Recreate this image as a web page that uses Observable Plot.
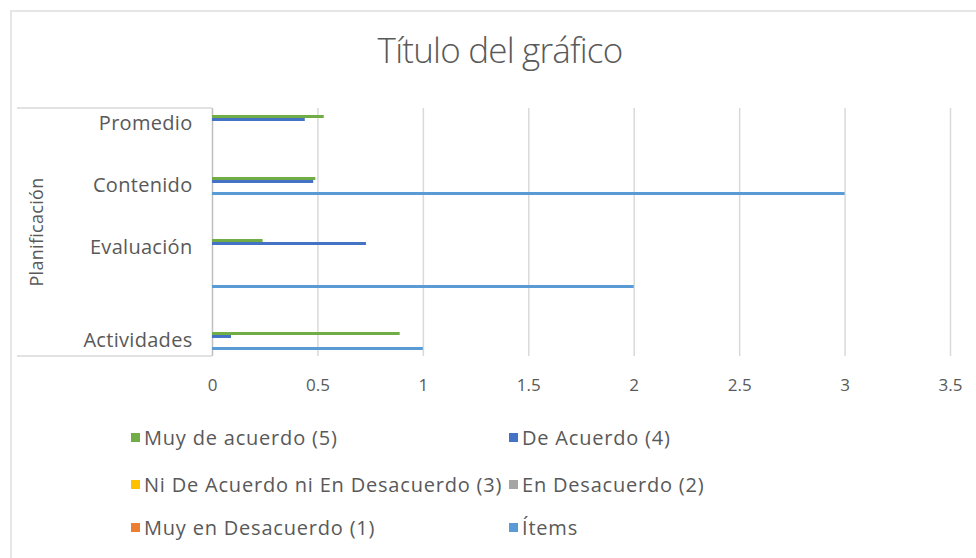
<!DOCTYPE html>
<html>
<head>
<meta charset="utf-8">
<script src="https://cdn.jsdelivr.net/npm/d3@7"></script>
<script src="https://cdn.jsdelivr.net/npm/@observablehq/plot@0.6"></script>
<style>
  html, body { margin: 0; padding: 0; background: #ffffff; }
  #chart { position: relative; width: 976px; height: 558px; overflow: hidden; background: #fff; font-family: "Open Sans", sans-serif; color: #595959; }
  #frame { position: absolute; left: 10px; top: 10px; width: 1100px; height: 700px; border-top: 2px solid #e6e6e6; border-left: 2px solid #e6e6e6; box-sizing: border-box; }
  #title { position: absolute; left: 0; top: 26px; width: 1000px; text-align: center; font-size: 35px; font-weight: 300; color: #595959; letter-spacing: -0.8px; }
  #plot { position: absolute; left: 0; top: 0; }
  #legend { position: absolute; left: 131px; top: 424px; width: 800px; }
  .item { position: absolute; display: flex; align-items: center; font-size: 20px; letter-spacing: 0.8px; color: #595959; white-space: nowrap; }
  .sw { width: 9px; height: 9px; margin-right: 4px; }
</style>
</head>
<body>
<div id="chart">
  <div id="frame"></div>
  <div id="title"></div>
  <div id="plot"></div>
  <div id="legend"></div>
</div>
<script>
// ---- data ----
const titleText = "Título del gráfico";
const groupLabel = "Planificación";
const rowIds = [0, 1, 2, 3, 4, 5, 6, 7];
const rowLabels = ["Promedio", "", "Contenido", "", "Evaluación", "", "", "Actividades"];
const seriesNames = ["Muy de acuerdo (5)", "De Acuerdo (4)", "Ni De Acuerdo ni En Desacuerdo (3)", "En Desacuerdo (2)", "Muy en Desacuerdo (1)", "Ítems"];
const seriesColors = ["#70AD47", "#4472C4", "#FFC000", "#A5A5A5", "#ED7D31", "#5B9BD5"];
const muyDeAcuerdo    = [0.53, null, 0.49, null, 0.24, null, null, 0.89];
const deAcuerdo       = [0.44, null, 0.48, null, 0.73, null, null, 0.09];
const niDeAcuerdo     = [0, 0, 0, 0, 0, 0, 0, 0];
const enDesacuerdo    = [0, 0, 0, 0, 0, 0, 0, 0];
const muyEnDesacuerdo = [0, 0, 0, 0, 0, 0, 0, 0];
const items           = [null, null, 3, null, null, 2, null, 1];
const xTicks = [0, 0.5, 1, 1.5, 2, 2.5, 3, 3.5];
const xTickLabels = ["0", "0.5", "1", "1.5", "2", "2.5", "3", "3.5"];
const legendOrder = [[0, 1], [2, 3], [4, 5]];

// ---- table ----
const seriesValues = [muyDeAcuerdo, deAcuerdo, niDeAcuerdo, enDesacuerdo, muyEnDesacuerdo, items];
const table = [];
seriesNames.forEach((s, si) => seriesValues[si].forEach((v, r) => {
  if (v != null) table.push({row: rowIds[r], series: s, value: v});
}));

document.getElementById("title").textContent = titleText;

const hasAxisMarks = typeof Plot.axisX === "function";
const xFmt = d => xTickLabels[xTicks.indexOf(d)];

const chart = Plot.plot({
  width: 976,
  height: 420,
  marginTop: 108,
  marginBottom: 64,
  marginLeft: 212,
  marginRight: 26,
  style: {fontFamily: '"Open Sans", sans-serif', fontSize: "17px", color: "#595959", background: "transparent"},
  facet: {data: table, y: "row"},
  fy: {domain: rowIds, padding: 0, axis: "left", tickFormat: i => rowLabels[i], tickSize: 0, tickPadding: 20, label: null},
  x: {domain: [0, 3.5], axis: hasAxisMarks ? null : "bottom", ticks: xTicks, tickFormat: xFmt, tickSize: 0, tickPadding: 22, label: null},
  y: {domain: seriesNames, axis: null, paddingInner: 0.1, paddingOuter: 1.3},
  color: {domain: seriesNames, range: seriesColors},
  marks: [
    Plot.ruleX(xTicks.slice(1), {stroke: "#d9d9d9", strokeWidth: 1.5}),
    Plot.ruleX([0], {stroke: "#bfbfbf", strokeWidth: 1.5}),
    Plot.barX(table, {x: "value", y: "series", fill: "series"}),
    hasAxisMarks ? Plot.axisX({ticks: xTicks, tickFormat: xFmt, tickSize: 0, tickPadding: 22, label: null, facetAnchor: "bottom"}) : null
  ]
});
document.getElementById("plot").appendChild(chart);

// fy tick labels a little larger and spaced, like the reference
d3.select(chart).selectAll('g[aria-label="fy-axis tick label"] text, g[aria-label="fy-axis"] text')
  .style("font-size", "20px").style("letter-spacing", "0.3px");

// multi-level category bracket + group label, from the scales
const svg = d3.select(chart);
const fyS = chart.scale("fy");
const xS = chart.scale("x");
const yTop = Math.min(...fyS.range), yBot = Math.max(...fyS.range);
const xLeft = Math.min(...xS.range);
const g = svg.append("g");
[yTop, yBot].forEach(yy => g.append("line")
  .attr("x1", 17).attr("x2", xLeft).attr("y1", yy).attr("y2", yy)
  .attr("stroke", "#d9d9d9").attr("stroke-width", 1.5));
g.append("text")
  .attr("transform", `translate(43,${(yTop + yBot) / 2}) rotate(-90)`)
  .attr("text-anchor", "middle")
  .attr("fill", "#595959")
  .style("font-size", "18px")
  .style("letter-spacing", "0.3px")
  .text(groupLabel);

// legend
const legend = document.getElementById("legend");
const colX = [0, 378];
const rowY = [0, 47, 90];
legendOrder.forEach((pair, ri) => pair.forEach((si, ci) => {
  const it = document.createElement("div");
  it.className = "item";
  it.style.left = colX[ci] + "px";
  it.style.top = rowY[ri] + "px";
  const sw = document.createElement("span");
  sw.className = "sw";
  sw.style.background = seriesColors[si];
  const tx = document.createElement("span");
  tx.textContent = seriesNames[si];
  it.appendChild(sw); it.appendChild(tx);
  legend.appendChild(it);
}));
</script>
</body>
</html>
